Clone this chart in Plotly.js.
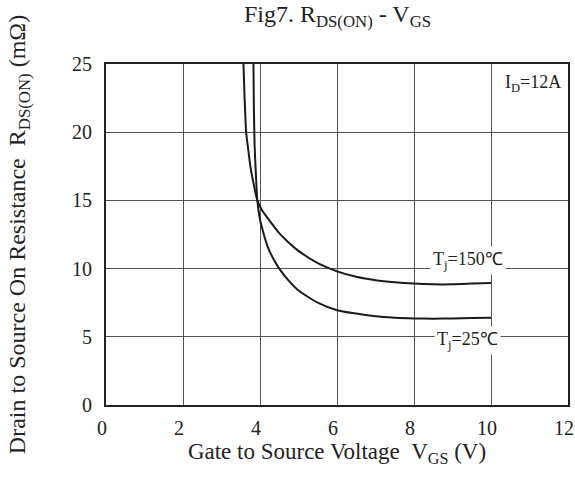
<!DOCTYPE html>
<html>
<head>
<meta charset="utf-8">
<script src="https://cdn.plot.ly/plotly-3.0.1.min.js"></script>
<style>html,body{margin:0;padding:0;background:#fff;}#chart{width:575px;height:488px;}</style>
</head>
<body>
<div id="chart"></div>
<script>
// Tj = 25°C curve
const vgs25 = [3.83, 3.84, 3.86, 3.9, 3.93, 4.0, 4.1, 4.2, 4.35, 4.5, 4.75, 5.0, 5.5, 6.0, 6.5, 7.0, 7.5, 8.0, 8.5, 9.0, 9.5, 10.0];
const rds25 = [25, 22, 19, 16.5, 15, 13.6, 12.5, 11.6, 10.7, 10.0, 9.1, 8.4, 7.5, 6.95, 6.7, 6.5, 6.4, 6.35, 6.33, 6.35, 6.37, 6.4];
// Tj = 150°C curve
const vgs150 = [3.57, 3.6, 3.64, 3.7, 3.75, 3.85, 3.93, 4.05, 4.2, 4.5, 4.75, 5.0, 5.5, 6.0, 6.5, 7.0, 7.5, 8.0, 8.5, 9.0, 9.5, 10.0];
const rds150 = [25, 22.5, 20, 18.6, 17.5, 16, 15, 14.3, 13.7, 12.6, 11.9, 11.3, 10.4, 9.8, 9.4, 9.15, 9.0, 8.9, 8.85, 8.85, 8.9, 8.95];
const xTicks = [0, 2, 4, 6, 8, 10, 12];
const yTicks = [0, 5, 10, 15, 20, 25];

const font = '"Liberation Serif", "Times New Roman", serif';
const ink = '#222';
const traces = [
  {x: vgs150, y: rds150, mode: 'lines', line: {color: '#1a1a1a', width: 2, shape: 'spline', smoothing: 0.6}, name: 'Tj=150℃', showlegend: false},
  {x: vgs25, y: rds25, mode: 'lines', line: {color: '#1a1a1a', width: 2, shape: 'spline', smoothing: 0.6}, name: 'Tj=25℃', showlegend: false}
];
const layout = {
  width: 575, height: 488,
  margin: {l: 106, r: 7, t: 64, b: 83},
  paper_bgcolor: '#fff', plot_bgcolor: '#fff',
  font: {family: font, color: ink, size: 20},
  title: {text: 'Fig7. R<sub>DS(ON)</sub> - V<sub>GS</sub>', font: {family: font, size: 24, color: ink}, x: 0.587, xanchor: 'center', y: 0.972, yanchor: 'middle'},
  xaxis: {
    range: [0, 12], tickvals: xTicks, ticktext: xTicks.map(String), ticks: '',
    showgrid: true, gridcolor: '#555', gridwidth: 1, zeroline: false,
    showline: true, linecolor: ink, linewidth: 2, mirror: true,
    ticklabelstandoff: 4, ticklabelshift: -4, ticklabeloverflow: 'allow',
    tickfont: {family: font, size: 20, color: ink},
    title: {text: 'Gate to Source Voltage&nbsp;&nbsp;V<sub>GS</sub> (V)', font: {family: font, size: 23, color: ink}, standoff: 4}
  },
  yaxis: {
    range: [0, 25], tickvals: yTicks, ticktext: yTicks.map(String), ticks: '',
    showgrid: true, gridcolor: '#555', gridwidth: 1, zeroline: false,
    showline: true, linecolor: ink, linewidth: 2, mirror: true,
    ticklabelstandoff: 8, ticklabeloverflow: 'allow',
    tickfont: {family: font, size: 20, color: ink},
    title: {text: 'Drain to Source On Resistance&nbsp;&nbsp;R<sub>DS(ON)</sub> (mΩ)', font: {family: font, size: 24, color: ink}, standoff: 40}
  },
  annotations: [
    {x: 9.4, y: 10.6, xref: 'x', yref: 'y', text: 'T<sub>j</sub>=150℃', showarrow: false, bgcolor: '#fff', font: {family: font, size: 18, color: ink}, borderpad: 2},
    {x: 9.4, y: 4.72, xref: 'x', yref: 'y', text: 'T<sub>j</sub>=25℃', showarrow: false, bgcolor: '#fff', font: {family: font, size: 18, color: ink}, borderpad: 2},
    {x: 11.87, y: 23.6, xref: 'x', yref: 'y', xanchor: 'right', text: 'I<sub>D</sub>=12A', showarrow: false, bgcolor: '#fff', font: {family: font, size: 18, color: ink}}
  ]
};
Plotly.newPlot('chart', traces, layout, {displayModeBar: false, staticPlot: true});
</script>
</body>
</html>
